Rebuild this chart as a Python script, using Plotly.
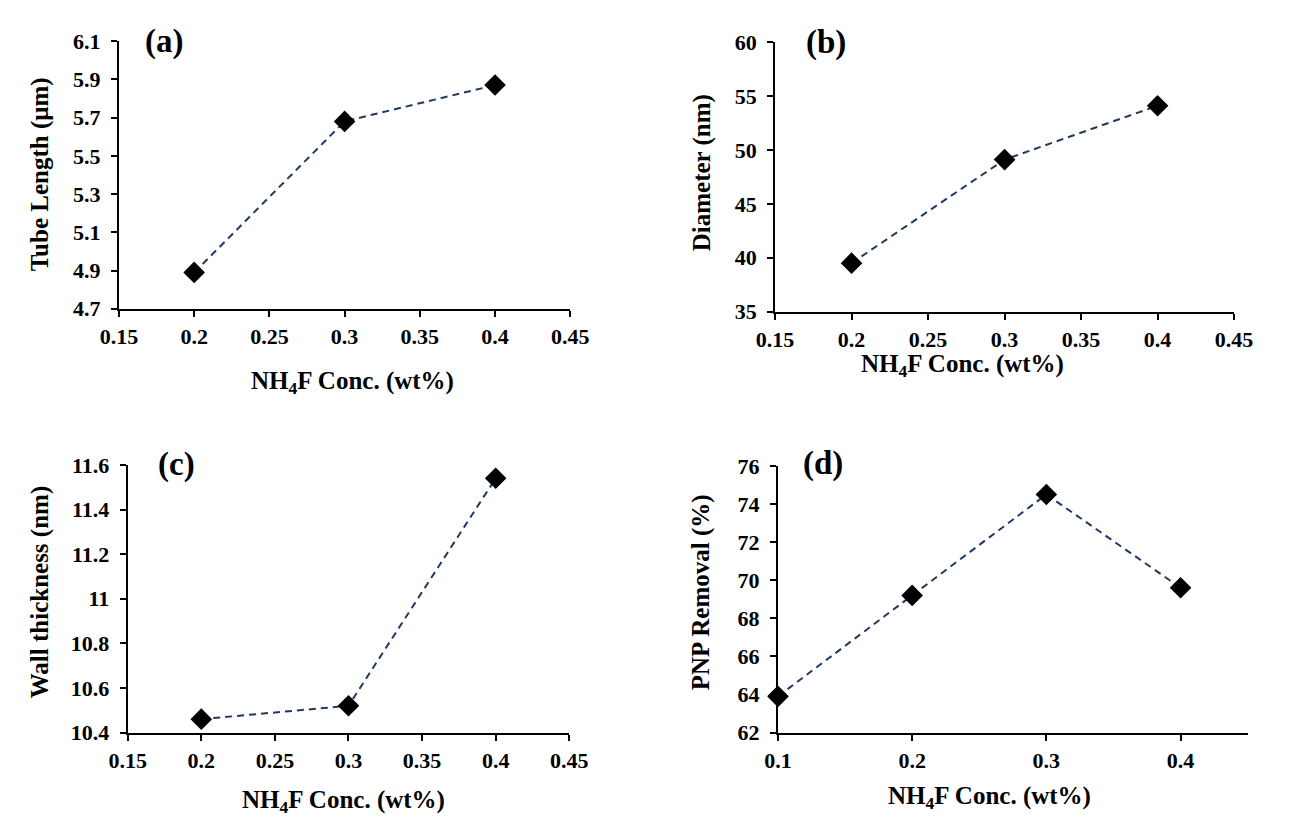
import plotly.graph_objects as go

# ---------------- data ----------------
conc_abc = [0.2, 0.3, 0.4]
tube_length = [4.89, 5.68, 5.87]
diameter = [39.5, 49.1, 54.1]
wall_thickness = [10.46, 10.52, 11.54]
conc_d = [0.1, 0.2, 0.3, 0.4]
pnp_removal = [63.9, 69.2, 74.5, 69.6]

x_ticks_abc = [0.15, 0.2, 0.25, 0.3, 0.35, 0.4, 0.45]
x_ticks_d = [0.1, 0.2, 0.3, 0.4]
y_ticks_a = [4.7, 4.9, 5.1, 5.3, 5.5, 5.7, 5.9, 6.1]
y_ticks_b = [35, 40, 45, 50, 55, 60]
y_ticks_c = [10.4, 10.6, 10.8, 11, 11.2, 11.4, 11.6]
y_ticks_d = [62, 64, 66, 68, 70, 72, 74, 76]

panel_labels = ["(a)", "(b)", "(c)", "(d)"]
y_titles = ["Tube Length (μm)", "Diameter (nm)", "Wall thickness (nm)", "PNP Removal (%)"]
x_title = "NH<sub>4</sub>F Conc. (wt%)"

W, H = 1289, 828
FONT = "Liberation Serif"
LINE_COLOR = "#1F3864"

def px_x(v):
    return v / W

def px_y(v):
    return 1 - v / H

# panel pixel boxes: (left, right, top, bottom)
boxes = [
    (103, 568, 30, 306),
    (779, 1252, 31, 309),
    (112, 567, 467, 743),
    (782, 1266, 468, 743),
]

series = [
    (conc_abc, tube_length, x_ticks_abc, y_ticks_a, [0.15, 0.45], [4.7, 6.1]),
    (conc_abc, diameter, x_ticks_abc, y_ticks_b, [0.15, 0.45], [35, 60]),
    (conc_abc, wall_thickness, x_ticks_abc, y_ticks_c, [0.15, 0.45], [10.4, 11.6]),
    (conc_d, pnp_removal, x_ticks_d, y_ticks_d, [0.1, 0.45], [62, 76]),
]

fig = go.Figure()
layout = {}
annotations = []

# positions for titles/labels (pixel centers)
ytitle_pos = [(22, 167), (704, 166), (22, 598), (703, 598)]
xtitle_pos = [(344, 382), (972, 364), (334, 814), (1000, 810)]
label_pos = [(149, 30), (832, 31), (162, 467), (828, 466)]

TITLE_SIZE = 25
TICK_SIZE = 22

for i, (xs, ys, xt, yt, xr, yr) in enumerate(series):
    n = "" if i == 0 else str(i + 1)
    xa, ya = "x" + n, "y" + n
    fig.add_trace(go.Scatter(
        x=xs, y=ys, xaxis=xa, yaxis=ya, mode="lines+markers",
        line=dict(color=LINE_COLOR, width=2, dash="7px,5px"),
        marker=dict(symbol="diamond", size=15, color="black",
                    line=dict(color="black", width=1.5)),
        showlegend=False, cliponaxis=False,
    ))
    l, r, t, b = boxes[i]
    common = dict(
        showline=True, linecolor="black", linewidth=2, showgrid=False,
        zeroline=False, ticks="outside", ticklen=6, tickwidth=2,
        tickcolor="black", tickmode="array",
        tickfont=dict(family=FONT, size=TICK_SIZE, color="black", weight="bold"),
    )
    layout["xaxis" + n] = dict(common, domain=[px_x(l), px_x(r)],
                               anchor=ya, range=xr, tickvals=xt,
                               ticklabelstandoff=1)
    layout["yaxis" + n] = dict(common, domain=[px_y(b), px_y(t)],
                               anchor=xa, range=yr, tickvals=yt,
                               ticklabelstandoff=6)

    tx, ty = ytitle_pos[i]
    annotations.append(dict(
        x=px_x(tx), y=px_y(ty), xref="paper", yref="paper", text=y_titles[i],
        textangle=-90, showarrow=False, xanchor="center", yanchor="middle",
        font=dict(family=FONT, size=TITLE_SIZE, color="black", weight="bold")))
    tx, ty = xtitle_pos[i]
    annotations.append(dict(
        x=px_x(tx), y=px_y(ty), xref="paper", yref="paper", text=x_title,
        showarrow=False, xanchor="center", yanchor="middle",
        font=dict(family=FONT, size=TITLE_SIZE, color="black", weight="bold")))
    tx, ty = label_pos[i]
    annotations.append(dict(
        x=px_x(tx), y=px_y(ty), xref="paper", yref="paper", text=panel_labels[i],
        showarrow=False, xanchor="center", yanchor="middle",
        font=dict(family=FONT, size=33, color="black", weight="bold")))

fig.update_layout(
    width=W, height=H, margin=dict(l=0, r=0, t=0, b=0),
    paper_bgcolor="white", plot_bgcolor="white",
    annotations=annotations, **layout,
)

fig.write_html("out.html")
